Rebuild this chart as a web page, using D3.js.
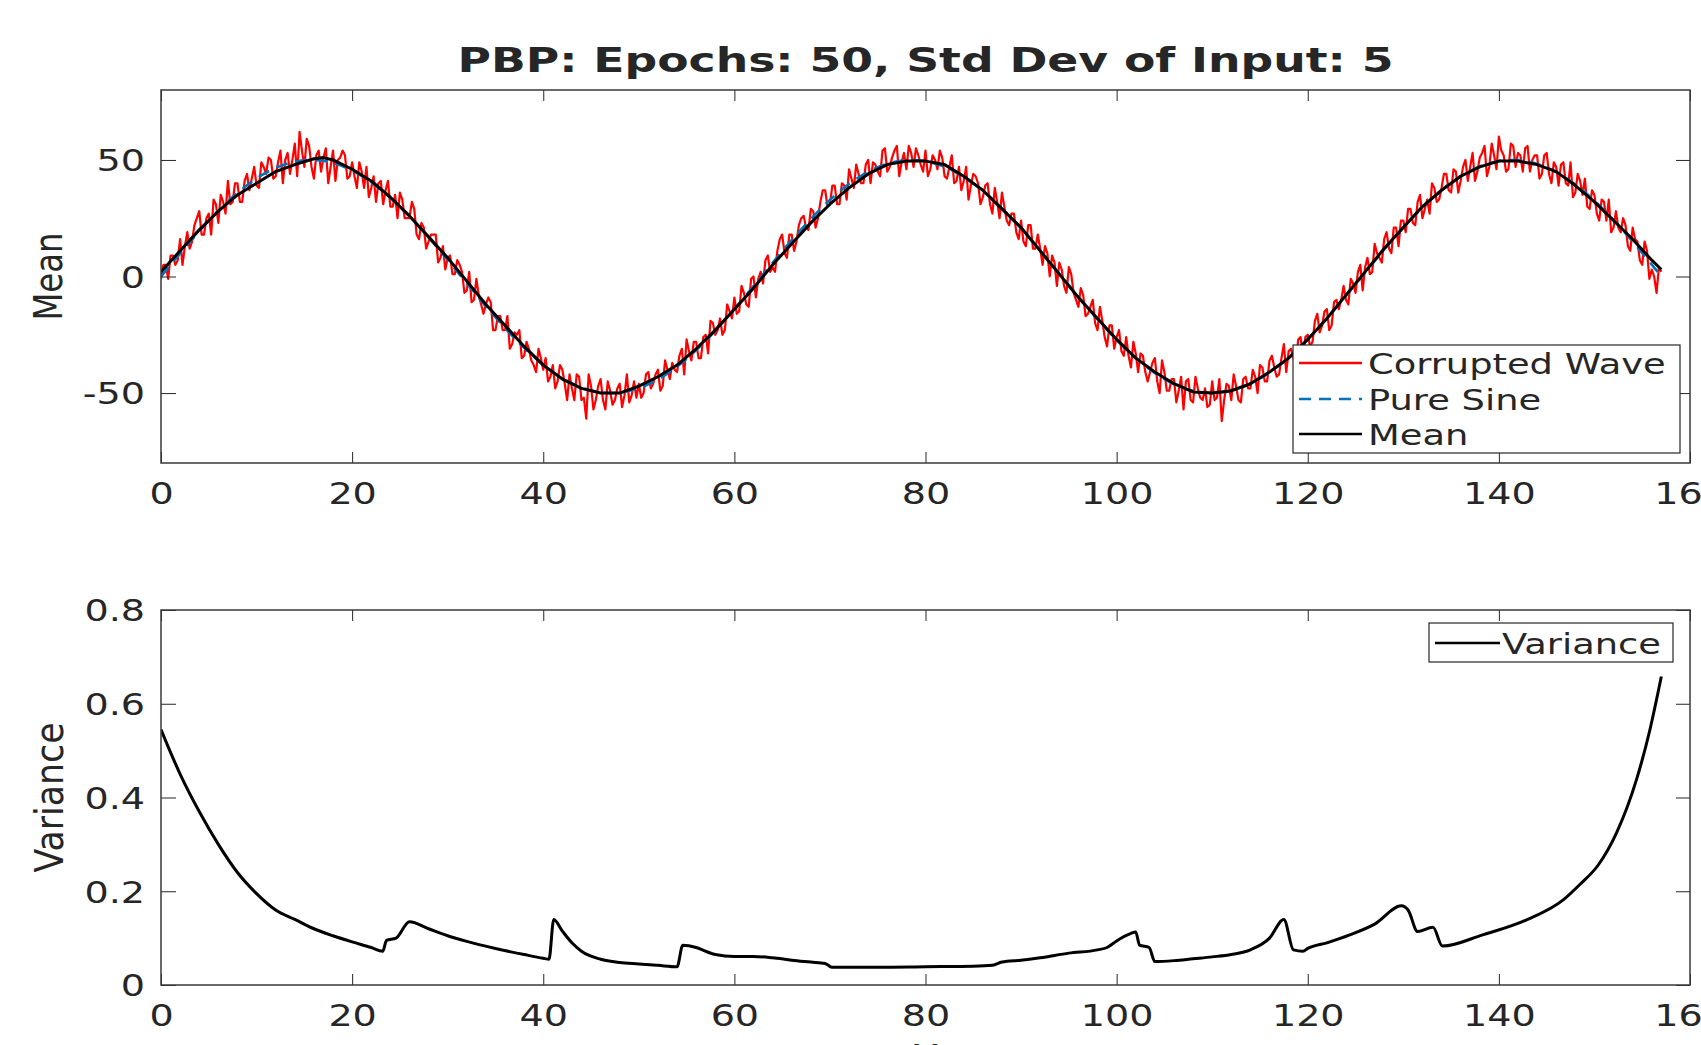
<!DOCTYPE html>
<html>
<head>
<meta charset="utf-8">
<script src="https://cdn.jsdelivr.net/npm/d3@7"></script>
<style>
  html, body { margin: 0; padding: 0; background: #fff; }
  svg { display: block; }
  text { font-family: "DejaVu Sans", sans-serif; fill: #262626; }
</style>
</head>
<body>
<svg id="chart" width="1701" height="1045"></svg>
<script>
// ---------------- DATA ----------------
const xTicks = [0, 20, 40, 60, 80, 100, 120, 140, 160];
const meanTicks = [-50, 0, 50];
const varianceTicks = [0, 0.2, 0.4, 0.6, 0.8];

// corrupted wave: samples every 0.25 starting at 0
const corruptedStart = 0;
const corruptedStep = 0.25;
const corruptedWave = [
  -1,5, 5,-1, 9,9, 5,7, 16,5, 13,19, 12,15, 22,25, 28,18, 18,25, 27,18, 33,31, 23,35, 32,27, 41,31, 32,40, 40,32, 32,41, 44,37, 42,47,
  39,38, 49,47, 44,51, 50,42, 43,49, 54,40, 50,53, 44,50, 57,43, 62,54, 47,59, 56,47, 42,52, 54,45, 51,55, 40,47, 54,41, 50,51, 54,52, 42,43,
  49,43, 38,49, 45,38, 47,34, 38,43, 32,40, 41,31, 37,41, 30,30, 35,25, 36,33, 25,25, 25,32, 29,18, 16,23, 21,12, 15,18, 18,18, 6,8, 13,3,
  8,9, 1,1, 7,5, 2,-7, -6,2, -11,-10, -1,-8, -12,-16, -12,-9, -11,-23, -23,-17, -17,-23, -23,-17, -31,-29, -24,-25, -23,-35, -34,-28, -31,-36, -38,-41, -31,-35,
  -40,-35, -45,-43, -38,-48, -45,-38, -40,-46, -53,-42, -48,-53, -42,-43, -53,-52, -61,-42, -47,-57, -53,-47, -44,-53, -57,-45, -49,-55, -53,-48, -46,-56, -51,-42, -54,-51, -45,-52,
  -46,-52, -50,-42, -41,-48, -46,-42, -40,-49, -47,-36, -40,-44, -37,-40, -41,-34, -31,-42, -27,-32, -36,-28, -28,-35, -35,-26, -25,-33, -19,-20, -25,-23, -18,-25, -23,-12, -15,-18,
  -9,-16, -15,-4, -7,-12, -13,-1, 0,-9, -1,2, -3,7, 9,2, 4,2, 11,16, 18,10, 8,18, 18,11, 15,22, 25,26, 21,20, 29,28, 21,25, 32,37, 37,30,
  31,39, 39,31, 31,40, 39,33, 46,42, 38,48, 44,40, 40,48, 50,40, 49,48, 45,43, 54,55, 45,47, 51,54, 56,43, 49,53, 46,56, 53,47, 55,52, 48,45,
  54,43, 46,52, 50,46, 54,51, 43,42, 47,52, 40,41, 47,37, 41,47, 33,39, 44,43, 40,31, 34,39, 40,31, 27,38, 32,25, 36,30, 24,22, 27,27, 19,16,
  24,15, 13,22, 22,12, 12,18, 12,5, 13,10, 0,9, 6,-4, 6,3, -4,-7, 4,1, -7,-10, -13,-5, -8,-17, -16,-13, -10,-20, -23,-13, -19,-26, -30,-21, -21,-31,
  -26,-23, -32,-34, -26,-34, -39,-28, -33,-41, -33,-34, -41,-45, -41,-37, -35,-45, -50,-36, -41,-49, -49,-44, -44,-54, -49,-43, -57,-45, -44,-53, -54,-43, -48,-52, -53,-48, -56,-55,
  -45,-53, -52,-44, -62,-53, -46,-47, -53,-42, -47,-53, -54,-44, -43,-48, -48,-40, -43,-50, -38,-39, -45,-45, -36,-34, -39,-43, -42,-35, -29,-41, -32,-31, -35,-38, -27,-26, -34,-26,
  -25,-30, -28,-19, -16,-24, -21,-15, -14,-23, -21,-11, -10,-14, -10,-4, -10,-12, -1,-3, -7,2, 5,-6, 4,8, 1,2, 14,10, 8,6, 16,19, 12,10, 21,21, 13,24,
  24,19, 29,29, 23,22, 32,35, 25,29, 33,27, 40,38, 32,33, 38,44, 44,37, 36,46, 45,36, 41,47, 50,41, 47,53, 41,45, 51,53, 56,43, 47,57, 52,46,
  60,54, 52,45, 46,57, 56,47, 53,52, 45,55, 56,45, 50,52, 52,42, 44,52, 53,44, 40,49, 47,39, 48,49, 40,39, 49,34, 36,44, 41,35, 42,30, 29,37,
  35,27, 24,33, 32,24, 33,19, 21,28, 21,19, 25,22, 13,11, 21,16, 15,7, 5,15, 11,-1, 3,0, -7,4, 2
];

const pureSineX = [0, 2, 4, 6, 8, 10, 12, 14, 16, 18, 20, 22, 24, 26, 28, 30, 32, 34, 36, 38,
  40, 42, 44, 46, 48, 50, 52, 54, 56, 58, 60, 62, 64, 66, 68, 70, 72, 74, 76, 78,
  80, 82, 84, 86, 88, 90, 92, 94, 96, 98, 100, 102, 104, 106, 108, 110, 112, 114, 116, 118,
  120, 122, 124, 126, 128, 130, 132, 134, 136, 138, 140, 142, 144, 146, 148, 150, 152, 154, 156, 157];
const pureSineY = [0, 9.93, 19.47, 28.23, 35.87, 42.07, 46.60, 49.27, 49.98, 48.69,
  45.46, 40.42, 33.77, 25.78, 16.75, 7.06, -2.92, -12.78, -22.13, -30.59,
  -37.84, -43.58, -47.58, -49.69, -49.81, -47.95, -44.18, -38.64, -31.57, -23.23,
  -13.97, -4.15, 5.82, 15.58, 24.70, 32.85, 39.69, 44.94, 48.39, 49.93,
  49.47, 47.04, 42.73, 36.72, 29.25, 20.61, 11.15, 1.24, -8.71, -18.32,
  -27.20, -34.99, -41.39, -46.14, -49.05, -50.00, -48.96, -45.97, -41.18, -34.82,
  -26.83, -17.91, -8.28, 1.68, 11.57, 21.01, 29.60, 37.02, 42.96, 47.18,
  49.53, 49.90, 48.28, 44.75, 39.47, 32.51, 24.23, 14.98, 5.10, 0.04];

const meanX = [0, 2, 4, 6, 8, 10, 12, 14, 16, 17, 18, 20, 22, 24, 26, 28, 30, 32, 34, 36,
  38, 40, 42, 44, 46, 48, 50, 52, 54, 56, 58, 60, 62, 64, 66, 68, 70, 72, 74, 76,
  78, 80, 82, 84, 86, 88, 90, 92, 94, 96, 98, 100, 102, 104, 106, 108, 110, 112, 114, 116,
  118, 120, 122, 124, 126, 128, 130, 132, 134, 136, 138, 140, 142, 144, 146, 148, 150, 152, 154, 156, 157];
const meanY = [2, 11, 20, 28, 35, 40, 45, 48, 50.5, 51, 50, 46, 41, 34, 26, 17, 8, -2, -12, -21,
  -30, -38, -44, -48, -50, -50, -47, -43, -38, -31, -23, -14, -5, 5, 14, 23, 31, 38, 44, 48,
  49.5, 49.5, 48, 43, 37, 29, 21, 11, 1, -9, -18, -27, -35, -41, -46, -49.5, -50, -49, -46, -41,
  -35, -27, -18, -8, 2, 12, 21, 30, 37, 43, 47, 49.5, 49.5, 48, 45, 39, 32, 24, 16, 7, 3];

const varianceX = [0, 2, 4, 6, 8, 10, 12, 14, 16, 18, 20, 22, 23.2, 23.6, 24.6, 26, 28, 30, 32, 35,
  38, 40, 40.6, 41.1, 42, 43, 44, 46, 48, 50, 52, 54, 54.6, 56, 57, 58, 60, 62, 64, 66,
  68, 69.5, 70.2, 75, 80, 85, 87, 88, 90, 92, 95, 98, 99, 100, 101.5, 102, 102.4, 103.4, 104, 106,
  108, 110, 112, 114, 116, 117.5, 118.5, 119.5, 120, 122, 124.4, 127, 129.8, 130.5, 131.5, 133.1, 134.1, 138.3, 142.9, 146.7,
  148.5, 150.4, 152.3, 154.4, 155.8, 157];
const varianceY = [0.545, 0.45, 0.37, 0.30, 0.24, 0.195, 0.16, 0.14, 0.12, 0.105, 0.092, 0.08, 0.072, 0.095, 0.10, 0.135, 0.12, 0.105, 0.093, 0.078,
  0.065, 0.057, 0.055, 0.14, 0.115, 0.09, 0.072, 0.055, 0.048, 0.045, 0.042, 0.039, 0.085, 0.08, 0.072, 0.065, 0.061, 0.061, 0.058, 0.053,
  0.049, 0.046, 0.038, 0.038, 0.039, 0.04, 0.042, 0.049, 0.053, 0.058, 0.068, 0.075, 0.08, 0.094, 0.11, 0.113, 0.085, 0.08, 0.05, 0.052,
  0.056, 0.06, 0.065, 0.075, 0.10, 0.14, 0.075, 0.072, 0.078, 0.09, 0.107, 0.13, 0.169, 0.16, 0.114, 0.123, 0.083, 0.107, 0.139, 0.181,
  0.215, 0.256, 0.324, 0.438, 0.544, 0.658];

// ---------------- LAYOUT ----------------
const svg = d3.select("#chart");
const W = 1701, H = 1045;
svg.append("rect").attr("width", W).attr("height", H).attr("fill", "#fff");

const L = 161, R = 1690;
const top1 = 90, bot1 = 463;
const top2 = 610, bot2 = 985;
const axisColor = "#262626";
const SX = 1.27; // horizontal stretch of the reference text

const x = d3.scaleLinear().domain([0, 160]).range([L, R]);
const y1 = d3.scaleLinear().domain([-80, 80]).range([bot1, top1]);
const y2 = d3.scaleLinear().domain([0, 0.8]).range([bot2, top2]);

function drawAxes(yScale, yTickVals, top, bot, fmt) {
  const g = svg.append("g");
  const gb = g.append("g").attr("transform", `translate(0,${bot})`)
    .call(d3.axisBottom(x).tickValues(xTicks).tickSizeInner(-11).tickSizeOuter(0).tickFormat(d => String(d)));
  gb.selectAll("text").attr("y", 41).attr("dy", 0).attr("font-size", 30)
    .attr("transform", `scale(${SX},1)`).attr("x", 0);
  const gt = g.append("g").attr("transform", `translate(0,${top})`)
    .call(d3.axisTop(x).tickValues(xTicks).tickSizeInner(-11).tickSizeOuter(0).tickFormat(""));
  const gl = g.append("g").attr("transform", `translate(${L},0)`)
    .call(d3.axisLeft(yScale).tickValues(yTickVals).tickSizeInner(-15).tickSizeOuter(0).tickFormat(fmt));
  gl.selectAll("text").attr("x", 0).attr("dy", "0.36em").attr("font-size", 30)
    .attr("transform", `translate(-16,0) scale(${SX},1)`);
  const gr = g.append("g").attr("transform", `translate(${R},0)`)
    .call(d3.axisRight(yScale).tickValues(yTickVals).tickSizeInner(-14).tickSizeOuter(0).tickFormat(""));
  [gb, gt, gl, gr].forEach(a => {
    a.select(".domain").remove();
    a.selectAll("line").attr("stroke", axisColor).attr("stroke-width", 1);
    a.selectAll("text").attr("fill", axisColor).attr("font-family", "DejaVu Sans");
  });
  g.append("rect").attr("x", L).attr("y", top).attr("width", R - L).attr("height", bot - top)
    .attr("fill", "none").attr("stroke", "#3a3a3a").attr("stroke-width", 1.5);
  return g;
}

const defs = svg.append("defs");
defs.append("clipPath").attr("id", "clip1").append("rect")
  .attr("x", L).attr("y", top1).attr("width", R - L).attr("height", bot1 - top1);
defs.append("clipPath").attr("id", "clip2").append("rect")
  .attr("x", L).attr("y", top2).attr("width", R - L).attr("height", bot2 - top2);

// ---------------- TOP PLOT ----------------
const plot1 = svg.append("g").attr("clip-path", "url(#clip1)");
const corruptedPts = corruptedWave.map((v, i) => [corruptedStart + i * corruptedStep, v]);
plot1.append("path").datum(corruptedPts)
  .attr("fill", "none").attr("stroke", "#ff0000").attr("stroke-width", 2.2).attr("stroke-linejoin", "round")
  .attr("d", d3.line().x(d => x(d[0])).y(d => y1(d[1])));
plot1.append("path").datum(pureSineX.map((v, i) => [v, pureSineY[i]]))
  .attr("fill", "none").attr("stroke", "#0072BD").attr("stroke-width", 2.6).attr("stroke-dasharray", "12,8")
  .attr("d", d3.line().curve(d3.curveNatural).x(d => x(d[0])).y(d => y1(d[1])));
plot1.append("path").datum(meanX.map((v, i) => [v, meanY[i]]))
  .attr("fill", "none").attr("stroke", "#000").attr("stroke-width", 3).attr("stroke-linejoin", "round")
  .attr("d", d3.line().x(d => x(d[0])).y(d => y1(d[1])));

drawAxes(y1, meanTicks, top1, bot1, d => String(d));

const lg1 = svg.append("g");
lg1.append("rect").attr("x", 1293).attr("y", 345).attr("width", 387).attr("height", 108)
  .attr("fill", "#fff").attr("stroke", axisColor).attr("stroke-width", 1.2);
const legend1 = [
  { label: "Corrupted Wave", color: "#ff0000", dash: null, yc: 363 },
  { label: "Pure Sine", color: "#0072BD", dash: "12,8", yc: 399 },
  { label: "Mean", color: "#000", dash: null, yc: 434 }
];
legend1.forEach(e => {
  lg1.append("line").attr("x1", 1299).attr("x2", 1362).attr("y1", e.yc).attr("y2", e.yc)
    .attr("stroke", e.color).attr("stroke-width", 2.6).attr("stroke-dasharray", e.dash);
  lg1.append("text").attr("font-size", 29).attr("fill", "#000")
    .attr("transform", `translate(1368,${e.yc + 11}) scale(${SX},1)`).text(e.label);
});

// ---------------- BOTTOM PLOT ----------------
const plot2 = svg.append("g").attr("clip-path", "url(#clip2)");
plot2.append("path").datum(varianceX.map((v, i) => [v, varianceY[i]]))
  .attr("fill", "none").attr("stroke", "#000").attr("stroke-width", 3).attr("stroke-linejoin", "round")
  .attr("d", d3.line().curve(d3.curveMonotoneX).x(d => x(d[0])).y(d => y2(d[1])));

drawAxes(y2, varianceTicks, top2, bot2, d => String(d));

const lg2 = svg.append("g");
lg2.append("rect").attr("x", 1429).attr("y", 623).attr("width", 244).attr("height", 39)
  .attr("fill", "#fff").attr("stroke", axisColor).attr("stroke-width", 1.2);
lg2.append("line").attr("x1", 1435).attr("x2", 1500).attr("y1", 643).attr("y2", 643)
  .attr("stroke", "#000").attr("stroke-width", 2.6);
lg2.append("text").attr("font-size", 29).attr("fill", "#000")
  .attr("transform", `translate(1502,654) scale(${SX},1)`).text("Variance");

// ---------------- TITLES / LABELS ----------------
svg.append("text").attr("x", (L + R) / 2).attr("y", 72).attr("text-anchor", "middle")
  .attr("font-size", 33).attr("font-weight", "bold").attr("fill", "#000")
  .attr("textLength", 936).attr("lengthAdjust", "spacingAndGlyphs")
  .text("PBP: Epochs: 50, Std Dev of Input: 5");

svg.append("text").attr("text-anchor", "middle").attr("font-size", 32).attr("fill", axisColor)
  .attr("textLength", 88).attr("lengthAdjust", "spacingAndGlyphs")
  .attr("transform", `translate(62,${(top1 + bot1) / 2}) rotate(-90) scale(1,1.2)`).text("Mean");

svg.append("text").attr("text-anchor", "middle").attr("font-size", 32).attr("fill", axisColor)
  .attr("textLength", 150).attr("lengthAdjust", "spacingAndGlyphs")
  .attr("transform", `translate(63,${(top2 + bot2) / 2}) rotate(-90) scale(1,1.2)`).text("Variance");

svg.append("text").attr("text-anchor", "middle").attr("font-size", 32).attr("fill", axisColor)
  .attr("transform", `translate(${(L + R) / 2},1067) scale(${SX},1)`).text("X");
</script>
</body>
</html>
